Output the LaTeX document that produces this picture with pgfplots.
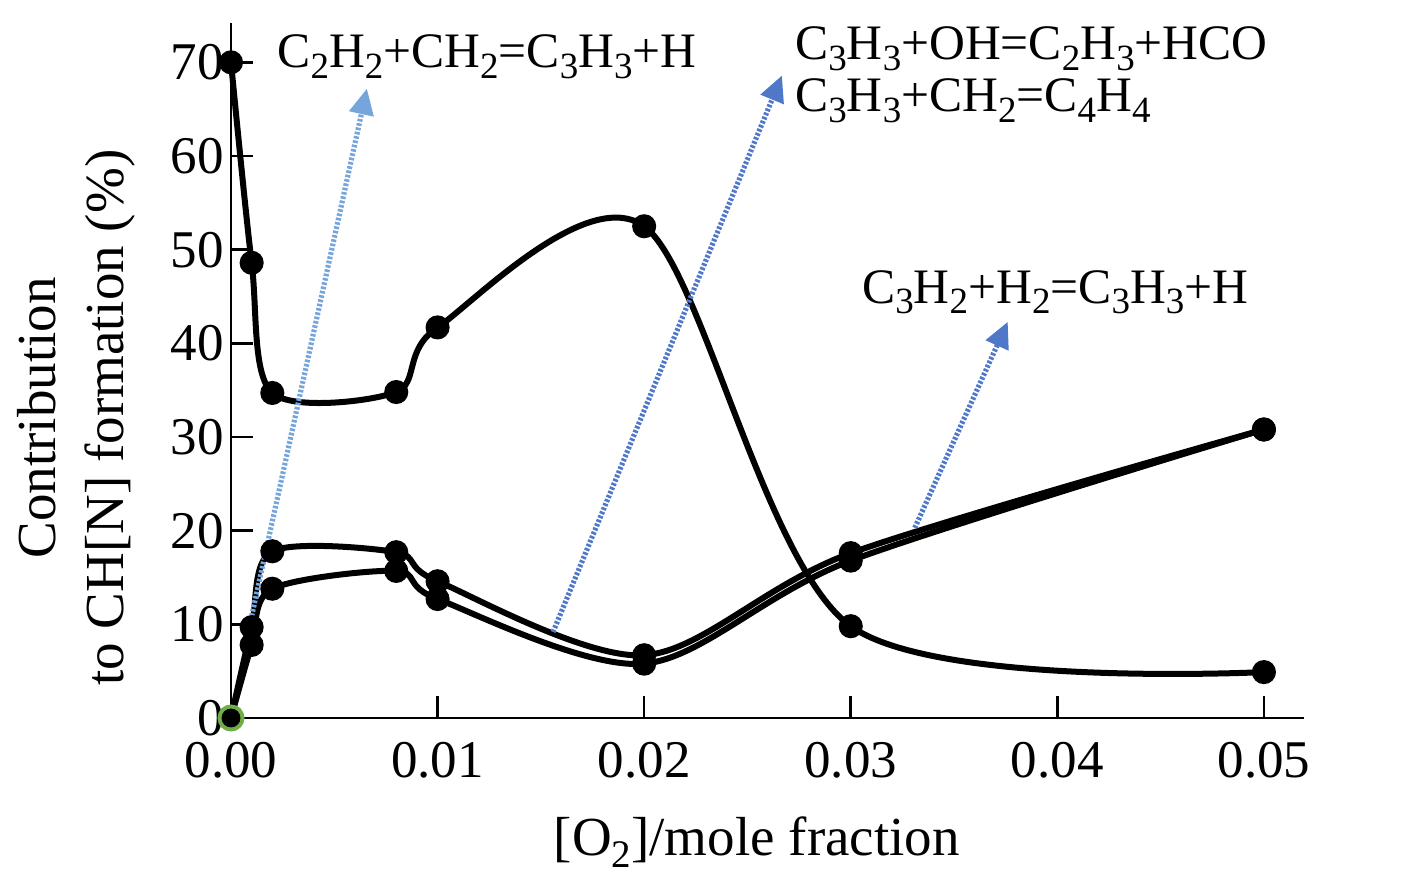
\documentclass[border=0pt]{standalone}
\usepackage{pgfplots}
\pgfplotsset{compat=1.18}
\usepackage{fontspec}
\setmainfont{Liberation Serif}
\usetikzlibrary{arrows.meta}
\definecolor{lblue}{HTML}{75A5DA}
\definecolor{mblue}{HTML}{4F78C8}
\definecolor{mgreen}{HTML}{70AD47}
\newcommand{\sub}[1]{\raisebox{-0.22em}{\fontsize{18.5}{18.5}\selectfont #1}}
\newcommand{\subl}[1]{\raisebox{-0.22em}{\fontsize{19.5}{19.5}\selectfont #1}}
\begin{document}
\begin{tikzpicture}[x=0.5pt,y=0.5pt,font=\fontsize{26.5}{34}\selectfont]
\begin{axis}[
  at={(0,0)}, anchor=south west,
  scale only axis, width=536.5pt, height=347.5pt,
  xmin=0, xmax=0.05194, ymin=0, ymax=74.2,
  axis lines=left, axis line style={line width=1.3pt, -},
  tick style={line width=1.3pt, black},
  tick align=inside, major tick length=11pt,
  xtick={0,0.01,0.02,0.03,0.04,0.05}, ytick={0,10,20,30,40,50,60,70},
  scaled x ticks=false,
  xticklabel style={/pgf/number format/.cd, fixed, fixed zerofill, precision=2, /tikz/.cd, yshift=-8.5pt},
  /pgf/number format/assume math mode=true,
  clip=false,
  xlabel={[O\subl{2}]/mole fraction},
  xlabel style={at={(axis description cs:0.49,-0.1785)}, anchor=center, font=\fontsize{27.5}{34}\selectfont},
  ylabel={Contribution\\to CH[N] formation (\%)},
  ylabel style={at={(axis description cs:-0.1445,0.432)}, anchor=center, align=center, font=\fontsize{27.5}{34}\selectfont},
]
\addplot[black, line width=3pt, smooth, tension=0.5, mark=*, mark size=4.5pt, mark options={fill=black}] coordinates {
 (0,70) (0.001,48.6) (0.002,34.7) (0.008,34.8) (0.01,41.7) (0.02,52.5) (0.03,9.8) (0.05,4.9)};
\addplot[black, line width=3pt, smooth, tension=0.5, mark=*, mark size=4.5pt, mark options={fill=black}] coordinates {
 (0,0) (0.001,9.7) (0.002,17.8) (0.008,17.7) (0.01,14.6) (0.02,6.7) (0.03,17.6) (0.05,30.8)};
\addplot[black, line width=3pt, smooth, tension=0.5, mark=*, mark size=4.5pt, mark options={fill=black}] coordinates {
 (0,0) (0.001,7.8) (0.002,13.8) (0.008,15.7) (0.01,12.7) (0.02,5.8) (0.03,16.8) (0.05,30.8)};
\addplot[only marks, mark=*, mark size=6.5pt, mark options={draw=mgreen, fill=mgreen, line width=0.5pt}] coordinates {(0,0)};
\addplot[only marks, mark=*, mark size=4.5pt, mark options={draw=black, fill=black}] coordinates {(0,0)};
\draw[lblue, line width=2.6pt, dash pattern=on 1.3pt off 0.9pt, -{Triangle[length=13pt,width=12pt]}] (axis cs:0.00082,9.07) -- (axis cs:0.00658,67.2);
\draw[mblue, line width=2.6pt, dash pattern=on 1.3pt off 0.9pt, -{Triangle[length=13pt,width=12pt]}] (axis cs:0.01559,9.18) -- (axis cs:0.02667,68.6);
\draw[mblue, line width=2.6pt, dash pattern=on 1.3pt off 0.9pt, -{Triangle[length=13pt,width=12pt]}] (axis cs:0.0331,20.3) -- (axis cs:0.0376,42.3);
\begin{scope}[every node/.style={anchor=base west, inner sep=0pt, font=\fontsize{24.8}{30}\selectfont}]
\node at (axis cs:0.00223,69.4) {C\sub{2}H\sub{2}+CH\sub{2}=C\sub{3}H\sub{3}+H};
\node at (axis cs:0.0273,70.3) {C\sub{3}H\sub{3}+OH=C\sub{2}H\sub{3}+HCO};
\node at (axis cs:0.0273,64.7) {C\sub{3}H\sub{3}+CH\sub{2}=C\sub{4}H\sub{4}};
\node at (axis cs:0.03054,44.3) {C\sub{3}H\sub{2}+H\sub{2}=C\sub{3}H\sub{3}+H};
\end{scope}
\end{axis}
\pgfresetboundingbox
\path[use as bounding box] (-231,-168) rectangle (1189,718);
\end{tikzpicture}
\end{document}
